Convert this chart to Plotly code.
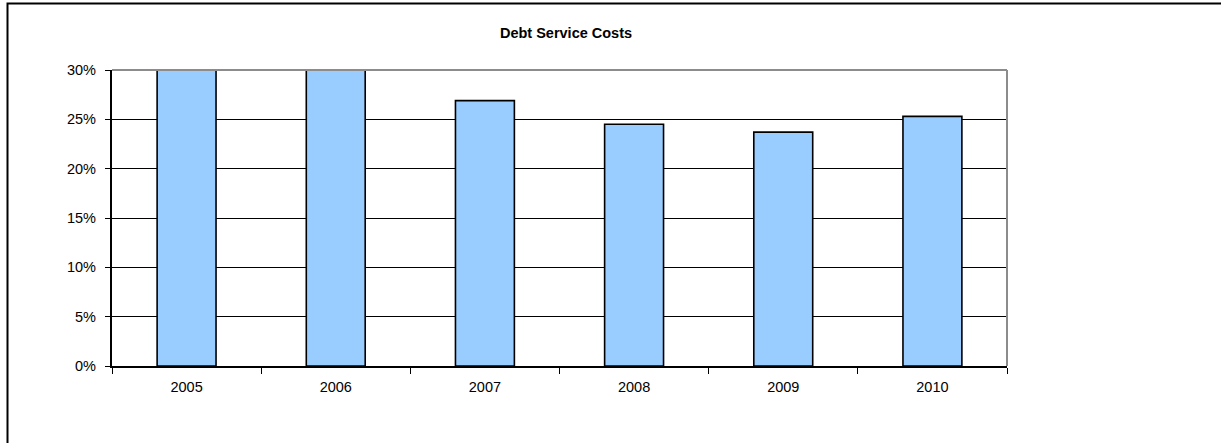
import plotly.graph_objects as go

# Debt service costs as share of revenue, by year
years = ["2005", "2006", "2007", "2008", "2009", "2010"]
debt_service_pct = [31.5, 31.0, 26.9, 24.5, 23.7, 25.3]
y_ticks = [0, 5, 10, 15, 20, 25, 30]
y_tick_labels = ["0%", "5%", "10%", "15%", "20%", "25%", "30%"]

W, H = 1221, 443
L, R, T, B = 112, 214, 70, 77
plot_w = W - L - R
plot_h = H - T - B


def px_to_paper_x(px):
    return (px - L) / plot_w


def px_to_paper_y(py):
    return (H - B - py) / plot_h


fig = go.Figure()
fig.add_trace(go.Bar(
    x=years,
    y=debt_service_pct,
    width=0.395,
    marker=dict(color="#99CCFF", line=dict(color="#000000", width=1.6)),
    cliponaxis=True,
))

font = dict(family="Liberation Sans, Arial, sans-serif", size=14.5, color="#000000")

fig.update_layout(
    width=W,
    height=H,
    margin=dict(l=L, r=R, t=T, b=B),
    paper_bgcolor="#FFFFFF",
    plot_bgcolor="#FFFFFF",
    showlegend=False,
    font=font,
    title=dict(
        text="<b>Debt Service Costs</b>",
        x=px_to_paper_x(566), xref="paper", xanchor="center",
        y=1 - 33 / H, yanchor="middle",
        font=dict(family="Liberation Sans, Arial, sans-serif", size=14.5, color="#000000"),
    ),
    xaxis=dict(
        type="category",
        showgrid=False,
        showline=True, linecolor="#000000", linewidth=2,
        ticks="outside", tickson="boundaries", ticklen=6, tickwidth=1.3,
        tickcolor="#000000",
        tickfont=font,
        ticklabelstandoff=7,
        zeroline=False,
    ),
    yaxis=dict(
        range=[0, 30],
        tickvals=y_ticks,
        ticktext=y_tick_labels,
        showgrid=True, gridcolor="#000000", gridwidth=1.2,
        showline=True, linecolor="#000000", linewidth=2.2,
        ticks="outside", ticklen=5, tickwidth=1.3, tickcolor="#000000",
        tickfont=font,
        ticklabelstandoff=6,
        zeroline=False,
    ),
    shapes=[
        # gray frame along the top and right of the plot area
        dict(type="line", xref="paper", yref="paper", x0=0, x1=1, y0=1, y1=1,
             line=dict(color="#8C8C8C", width=2), layer="above"),
        dict(type="line", xref="paper", yref="paper", x0=1, x1=1, y0=0, y1=1,
             line=dict(color="#8C8C8C", width=2), layer="above"),
        # outer chart border
        dict(type="rect", xref="paper", yref="paper",
             x0=px_to_paper_x(7.5), x1=px_to_paper_x(1230),
             y0=px_to_paper_y(455), y1=px_to_paper_y(3.5),
             line=dict(color="#000000", width=2), fillcolor="rgba(0,0,0,0)",
             layer="above"),
    ],
)

fig.write_html("out.html")
